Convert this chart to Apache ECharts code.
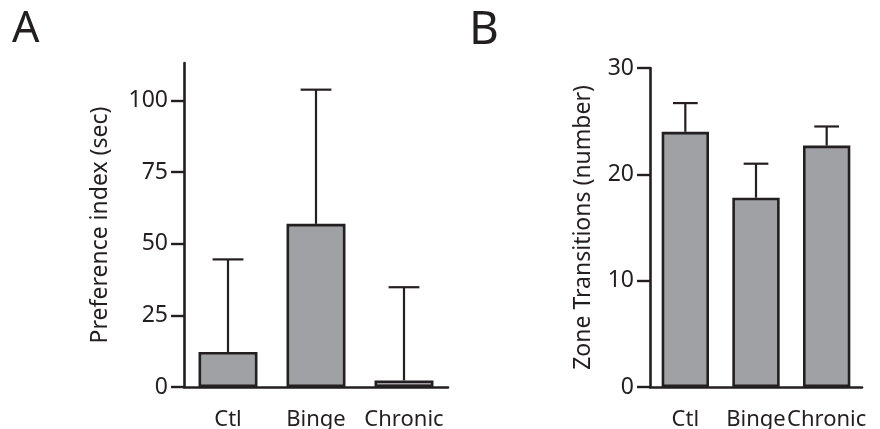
<!DOCTYPE html>
<html>
<head>
<meta charset="utf-8">
<script src="https://cdn.jsdelivr.net/npm/echarts@6/dist/echarts.min.js"></script>
<style>
  html, body { margin: 0; padding: 0; background: #fff; }
  #main { width: 880px; height: 429px; }
</style>
</head>
<body>
<div id="main"></div>
<script>
// groups on the x axis
const groups = ['Ctl', 'Binge', 'Chronic']

// panel A: preference index (sec), mean and mean + error
const prefMean = [12.2, 56.9, 2.3]
const prefUpper = [44.5, 103.7, 34.8]
const prefTicks = [0, 25, 50, 75, 100]

// panel B: zone transitions (number)
const zoneMean = [24.0, 17.8, 22.7]
const zoneUpper = [26.7, 21.0, 24.5]
const zoneTicks = [0, 10, 20, 30]

const ink = '#231f20'
const barGray = '#a0a1a4'
const font = 'Noto Sans'

const myChart = echarts.init(document.getElementById('main'))

// error bar = stem from mean up to upper + a cap
function errorRender(params, api) {
  const x = api.value(0)
  const top = api.coord([x, api.value(2)])
  const bottom = api.coord([x, api.value(1)])
  const band = api.size([1, 0])[0]
  const half = band * 0.175
  const style = { stroke: ink, lineWidth: 2.2 }
  return {
    type: 'group',
    children: [
      { type: 'line', shape: { x1: top[0], y1: top[1], x2: bottom[0], y2: bottom[1] }, style: style },
      { type: 'line', shape: { x1: top[0] - half, y1: top[1], x2: top[0] + half, y2: top[1] }, style: style }
    ]
  }
}

function catAxis(gridIndex) {
  return {
    type: 'category',
    gridIndex: gridIndex,
    data: groups,
    axisLine: { lineStyle: { color: ink, width: 2.6 } },
    axisTick: { alignWithLabel: true, length: 13, lineStyle: { color: ink, width: 2.4 } },
    axisLabel: { interval: 0, color: ink, fontFamily: font, fontSize: 22, margin: 22 }
  }
}

function valAxis(gridIndex, max, ticks, name, gap) {
  return {
    type: 'value',
    gridIndex: gridIndex,
    min: 0,
    max: max,
    name: name,
    nameLocation: 'middle',
    nameGap: gap,
    nameTextStyle: { color: ink, fontFamily: font, fontSize: 23 },
    splitLine: { show: false },
    axisLine: { show: true, lineStyle: { color: ink, width: 2.6 } },
    axisTick: { show: true, length: 13, customValues: ticks, lineStyle: { color: ink, width: 2.4 } },
    axisLabel: { color: ink, fontFamily: font, fontSize: 23, margin: 16, customValues: ticks }
  }
}

const option = {
  animation: false,
  title: [
    { text: 'A', left: 7, top: 3, textStyle: { color: ink, fontFamily: font, fontSize: 43, fontWeight: 'normal' } },
    { text: 'B', left: 464, top: 3, textStyle: { color: ink, fontFamily: font, fontSize: 46, fontWeight: 'normal' } }
  ],
  grid: [
    { left: 184, right: 432, top: 63, bottom: 42, outerBoundsMode: 'none' },
    { left: 650, right: 18, top: 68, bottom: 42, outerBoundsMode: 'none' }
  ],
  xAxis: [catAxis(0), catAxis(1)],
  yAxis: [
    valAxis(0, 113, prefTicks, 'Preference index (sec)', 72),
    valAxis(1, 30, zoneTicks, 'Zone Transitions (number)', 55)
  ],
  series: [
    {
      type: 'bar', xAxisIndex: 0, yAxisIndex: 0, data: prefMean, barWidth: '67%',
      itemStyle: { color: barGray, borderColor: ink, borderWidth: 2.6 }
    },
    {
      type: 'custom', xAxisIndex: 0, yAxisIndex: 0, renderItem: errorRender, z: 3,
      data: prefMean.map((m, i) => [i, m, prefUpper[i]])
    },
    {
      type: 'bar', xAxisIndex: 1, yAxisIndex: 1, data: zoneMean, barWidth: '67%',
      itemStyle: { color: barGray, borderColor: ink, borderWidth: 2.6 }
    },
    {
      type: 'custom', xAxisIndex: 1, yAxisIndex: 1, renderItem: errorRender, z: 3,
      data: zoneMean.map((m, i) => [i, m, zoneUpper[i]])
    }
  ]
}

myChart.setOption(option)
</script>
</body>
</html>
